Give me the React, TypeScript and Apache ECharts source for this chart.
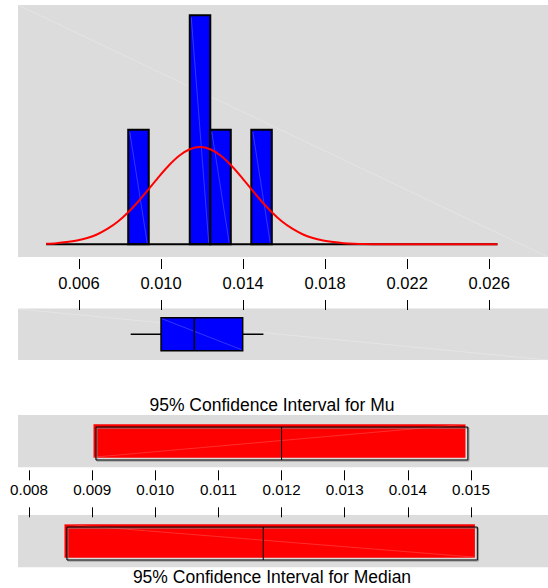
import React, { useEffect, useRef } from 'react';
import * as echarts from 'echarts';

// ---- data ----
const histBinStart = [0.0084, 0.0114, 0.0124, 0.0144];
const histBinEnd = [0.0094, 0.0124, 0.0134, 0.0154];
const histCounts = [1, 2, 1, 1];

const curveX = [
  0.0044, 0.0049, 0.0054, 0.0059, 0.0064, 0.0069, 0.0074, 0.0079, 0.0084, 0.0089,
  0.0094, 0.0099, 0.0104, 0.0109, 0.0114, 0.0119, 0.0124, 0.0129, 0.0134, 0.0139,
  0.0144, 0.0149, 0.0154, 0.0159, 0.0164, 0.0169, 0.0174, 0.0179, 0.0184, 0.0189,
  0.0194, 0.0199, 0.0204, 0.0214, 0.0264,
];
const curveY = [
  0.005, 0.010, 0.019, 0.033, 0.055, 0.088, 0.136, 0.199, 0.280, 0.376,
  0.482, 0.591, 0.692, 0.775, 0.830, 0.849, 0.830, 0.775, 0.692, 0.591,
  0.482, 0.376, 0.280, 0.199, 0.136, 0.088, 0.055, 0.033, 0.019, 0.010,
  0.005, 0.002, 0.001, 0.0, 0.0,
];
const baselineX = [0.0044, 0.0264];

// min, Q1, median, Q3, max
const boxStats = [0.00852, 0.0100, 0.01162, 0.01398, 0.01499];

const histTicks = [0.006, 0.010, 0.014, 0.018, 0.022, 0.026];
const ciTicks = [0.008, 0.009, 0.010, 0.011, 0.012, 0.013, 0.014, 0.015];

// lower, centre, upper
const ciMu = [0.00906, 0.01200, 0.01495];
const ciMedian = [0.00860, 0.01171, 0.01510];

const titleMu = '95% Confidence Interval for Mu';
const titleMedian = '95% Confidence Interval for Median';

const FONT = '"Liberation Sans", Arial, sans-serif';
const GRAY = '#DCDCDC';

export default function App() {
  const ref = useRef<HTMLDivElement>(null);

  useEffect(() => {
    document.body.style.margin = '0';
    if (!ref.current) return;
    const chart = echarts.init(ref.current, null, { renderer: 'svg' });

    const histRange = { min: 0.003026, max: 0.028865 };
    const ciRange = { min: 0.0078258, max: 0.0162194 };

    const hiddenY = (gi: number, min: number, max: number) => ({
      gridIndex: gi, type: 'value', min, max, show: false,
      axisLine: { onZero: false },
      splitLine: { show: false },
    });

    const tickStyle = { color: '#000', width: 1 };

    const ciRender = (params: any, api: any) => {
      const lo = api.value(0), md = api.value(1), hi = api.value(2);
      const a = api.coord([lo, 0.77]);
      const b = api.coord([hi, 0.14]);
      const m = api.coord([md, 0]);
      const w = b[0] - a[0];
      const h = b[1] - a[1];
      const dx = -2.4, dy = -2.8;
      return {
        type: 'group',
        children: [
          { type: 'rect', shape: { x: a[0] + dx, y: a[1] + dy, width: w, height: h + 0.5 }, style: { fill: '#FF0000' } },
          {
            type: 'line',
            shape: params.seriesIndex === 4
              ? { x1: a[0] + dx, y1: b[1] + dy, x2: b[0] + dx, y2: a[1] + dy }
              : { x1: a[0] + dx, y1: a[1] + dy, x2: b[0] + dx, y2: b[1] + dy },
            style: { stroke: 'rgba(255,190,190,0.35)', lineWidth: 0.7 },
          },
          { type: 'rect', shape: { x: a[0] + 1, y: a[1] + 1, width: w, height: h }, style: { fill: 'none', stroke: '#8a8a8a', lineWidth: 1 } },
          { type: 'rect', shape: { x: a[0], y: a[1], width: w, height: h }, style: { fill: 'none', stroke: '#000', lineWidth: 1 } },
          { type: 'line', shape: { x1: m[0], y1: a[1], x2: m[0], y2: b[1] }, style: { stroke: '#000', lineWidth: 1 } },
        ],
      };
    };

    const xBase = {
      type: 'value',
      splitLine: { show: false },
    };

    chart.setOption({
      animation: false,
      grid: [
        { left: 18, top: 5, width: 530, height: 252, show: true, backgroundColor: GRAY, borderWidth: 0 },
        { left: 18, top: 308.5, width: 530, height: 51.5, show: true, backgroundColor: GRAY, borderWidth: 0 },
        { left: 18, top: 415, width: 530, height: 52.3, show: true, backgroundColor: GRAY, borderWidth: 0 },
        { left: 18, top: 515, width: 530, height: 52.3, show: true, backgroundColor: GRAY, borderWidth: 0 },
      ],
      xAxis: [
        {
          ...xBase, gridIndex: 0, ...histRange, position: 'bottom', offset: 2,
          axisLine: { show: false, onZero: false },
          axisTick: { show: true, length: 10, customValues: histTicks, lineStyle: tickStyle },
          axisLabel: {
            show: true, customValues: histTicks, margin: 15, fontSize: 16.5, color: '#000', fontFamily: FONT,
            formatter: (v: number) => v.toFixed(3),
          },
        },
        {
          ...xBase, gridIndex: 1, ...histRange, position: 'top', offset: -1.5,
          axisLine: { show: false, onZero: false },
          axisTick: { show: true, length: 10, customValues: histTicks, lineStyle: tickStyle },
          axisLabel: { show: false },
        },
        {
          ...xBase, gridIndex: 2, ...ciRange, position: 'bottom', offset: 3,
          axisLine: { show: false, onZero: false },
          axisTick: { show: true, length: 10, customValues: ciTicks, lineStyle: tickStyle },
          axisLabel: {
            show: true, customValues: ciTicks, margin: 12, fontSize: 15.2, color: '#000', fontFamily: FONT,
            formatter: (v: number) => v.toFixed(3),
          },
        },
        {
          ...xBase, gridIndex: 3, ...ciRange, position: 'top', offset: -2.3,
          axisLine: { show: false, onZero: false },
          axisTick: { show: true, length: 10, customValues: ciTicks, lineStyle: tickStyle },
          axisLabel: { show: false },
        },
      ],
      yAxis: [
        hiddenY(0, -0.111, 2.09),
        hiddenY(1, 0, 1),
        hiddenY(2, 0, 1),
        hiddenY(3, 0, 1),
      ],
      graphic: [
        { type: 'line', z: 1, silent: true, shape: { x1: 18, y1: 5, x2: 548, y2: 257 }, style: { stroke: 'rgba(255,255,255,0.3)', lineWidth: 0.8 } },
        { type: 'line', z: 1, silent: true, shape: { x1: 18, y1: 309, x2: 548, y2: 360 }, style: { stroke: 'rgba(255,255,255,0.3)', lineWidth: 0.8 } },
        {
          type: 'text', x: 272, y: 405, silent: true,
          style: { text: titleMu, fontSize: 17.5, fontFamily: FONT, fill: '#000', align: 'center', verticalAlign: 'middle', textAlign: 'center', textVerticalAlign: 'middle' },
        },
        {
          type: 'text', x: 272, y: 577, silent: true,
          style: { text: titleMedian, fontSize: 17.5, fontFamily: FONT, fill: '#000', align: 'center', verticalAlign: 'middle', textAlign: 'center', textVerticalAlign: 'middle' },
        },
      ],
      series: [
        {
          type: 'custom', xAxisIndex: 0, yAxisIndex: 0, z: 3,
          data: histCounts.map((c, i) => [histBinStart[i], histBinEnd[i], c]),
          encode: { x: [0, 1], y: 2 },
          renderItem: (params: any, api: any) => {
            const p0 = api.coord([api.value(0), api.value(2)]);
            const p1 = api.coord([api.value(1), 0]);
            return {
              type: 'group',
              children: [
                { type: 'rect', shape: { x: p0[0], y: p0[1], width: p1[0] - p0[0], height: p1[1] - p0[1] }, style: { fill: '#0000FF', stroke: '#000', lineWidth: 2 } },
                { type: 'line', shape: { x1: p0[0] + 1.5, y1: p0[1] + 2, x2: p1[0] - 1.5, y2: p1[1] - 1 }, style: { stroke: 'rgba(140,150,255,0.6)', lineWidth: 0.6 } },
              ],
            };
          },
        },
        {
          type: 'line', xAxisIndex: 0, yAxisIndex: 0, z: 4,
          data: baselineX.map((x) => [x, 0]),
          symbol: 'none', lineStyle: { color: '#000', width: 2 },
        },
        {
          type: 'line', xAxisIndex: 0, yAxisIndex: 0, z: 5,
          data: curveX.map((x, i) => [x, curveY[i]]),
          smooth: 0.3, symbol: 'none', lineStyle: { color: '#FF0000', width: 2 },
        },
        {
          type: 'custom', xAxisIndex: 1, yAxisIndex: 1, z: 3,
          data: [boxStats],
          renderItem: (params: any, api: any) => {
            const mn = api.value(0), q1 = api.value(1), md = api.value(2), q3 = api.value(3), mx = api.value(4);
            const t = api.coord([q1, 0.82]);
            const b = api.coord([q3, 0.18]);
            const m = api.coord([md, 0.5]);
            const wl = api.coord([mn, 0.5]);
            const wr = api.coord([mx, 0.5]);
            return {
              type: 'group',
              children: [
                { type: 'line', shape: { x1: wl[0], y1: m[1], x2: t[0], y2: m[1] }, style: { stroke: '#000', lineWidth: 1.5 } },
                { type: 'line', shape: { x1: b[0], y1: m[1], x2: wr[0], y2: m[1] }, style: { stroke: '#000', lineWidth: 1.5 } },
                { type: 'rect', shape: { x: t[0], y: t[1], width: b[0] - t[0], height: b[1] - t[1] }, style: { fill: '#0000FF', stroke: '#000', lineWidth: 1.5 } },
                { type: 'line', shape: { x1: t[0] + 1, y1: t[1] + 1, x2: b[0] - 1, y2: b[1] - 1 }, style: { stroke: 'rgba(140,150,255,0.6)', lineWidth: 0.6 } },
                { type: 'line', shape: { x1: m[0], y1: t[1], x2: m[0], y2: b[1] }, style: { stroke: '#000', lineWidth: 1.5 } },
              ],
            };
          },
        },
        {
          type: 'custom', xAxisIndex: 2, yAxisIndex: 2, z: 3,
          data: [ciMu],
          renderItem: ciRender,
        },
        {
          type: 'custom', xAxisIndex: 3, yAxisIndex: 3, z: 3,
          data: [ciMedian],
          renderItem: ciRender,
        },
      ],
    });

    return () => chart.dispose();
  }, []);

  return <div ref={ref} style={{ width: 548, height: 588 }} />;
}
